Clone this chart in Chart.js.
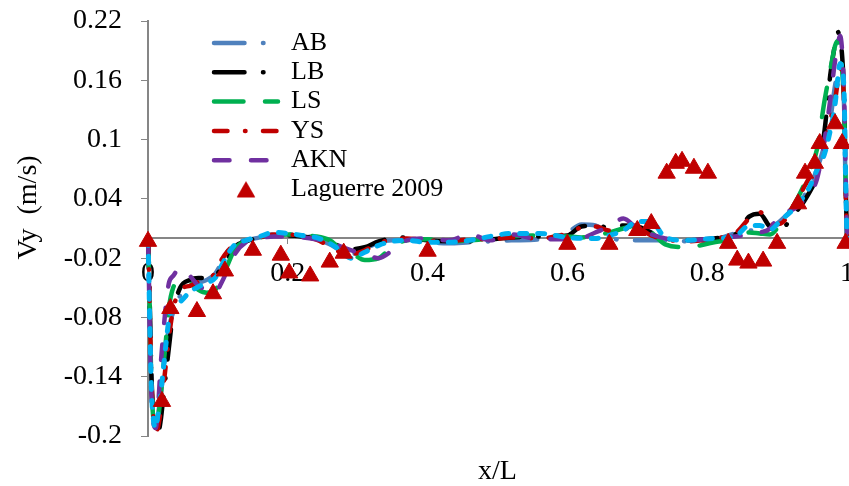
<!DOCTYPE html>
<html>
<head>
<meta charset="utf-8">
<script src="https://cdn.jsdelivr.net/npm/chart.js@4.4.1/dist/chart.umd.min.js"></script>
<style>html,body{margin:0;padding:0;background:#fff}canvas{display:block}</style>
</head>
<body>
<canvas id="c" width="849" height="486"></canvas>
<script>
// ---- data ----
const xGrid = [0, 0.001, 0.003, 0.005, 0.008, 0.011, 0.014, 0.018, 0.022, 0.026,
  0.03, 0.036, 0.046, 0.06, 0.072, 0.084, 0.096, 0.105, 0.115, 0.125,
  0.14, 0.16, 0.18, 0.2, 0.22, 0.24, 0.26, 0.275, 0.29, 0.31,
  0.33, 0.35, 0.37, 0.4, 0.43, 0.46, 0.49, 0.52, 0.56, 0.6,
  0.62, 0.64, 0.66, 0.68, 0.7, 0.72, 0.74, 0.77, 0.81, 0.84,
  0.86, 0.875, 0.89, 0.905, 0.925, 0.945, 0.957, 0.968, 0.976, 0.983,
  0.987, 0.99, 0.993, 0.996, 0.998, 1];

const abVy = [0, -0.025, -0.095, -0.15, -0.183, -0.19, -0.18, -0.16, -0.135, -0.11,
  -0.09, -0.075, -0.058, -0.05, -0.045, -0.042, -0.036, -0.025, -0.012, -0.005,
  -0.002, 0.001, 0.004, 0.004, 0.003, 0, -0.006, -0.012, -0.016, -0.011,
  -0.004, -0.002, -0.002, -0.004, -0.005, -0.004, -0.003, -0.002, -0.001, 0.006,
  0.014, 0.013, 0.002, -0.002, -0.002, -0.002, -0.002, -0.003, -0.001, 0.005,
  0.008, 0.007, 0.01, 0.018, 0.032, 0.05, 0.07, 0.095, 0.12, 0.155,
  0.17, 0.175, 0.165, 0.13, 0.05, 0];

const lbVy = [0, -0.02, -0.08, -0.14, -0.18, -0.195, -0.198, -0.185, -0.16, -0.135,
  -0.11, -0.075, -0.05, -0.042, -0.04, -0.04, -0.038, -0.03, -0.019, -0.008,
  -0.003, 0.001, 0.003, 0.003, 0.002, 0, -0.004, -0.008, -0.011, -0.009,
  -0.003, 0, 0.001, -0.002, -0.003, -0.003, -0.001, 0.001, 0.002, 0.003,
  0.012, 0.013, 0.011, 0.013, 0.012, 0.006, 0, -0.002, 0, 0.004,
  0.022, 0.025, 0.012, 0.01, 0.025, 0.045, 0.065, 0.11, 0.165, 0.197,
  0.209, 0.2, 0.185, 0.14, 0.06, 0];

const lsVy = [0, -0.02, -0.09, -0.15, -0.185, -0.193, -0.185, -0.16, -0.13, -0.1,
  -0.07, -0.05, -0.043, -0.045, -0.052, -0.055, -0.052, -0.042, -0.025, -0.01,
  -0.003, 0.001, 0.003, 0.004, 0.003, 0.002, -0.002, -0.01, -0.014, -0.022,
  -0.02, -0.008, -0.002, -0.001, -0.003, -0.002, 0, 0.002, 0.003, 0.002,
  0.001, 0.003, 0.006, 0.01, 0.013, 0.006, -0.006, -0.009, -0.004, 0,
  0.006, 0.005, 0.004, 0.015, 0.035, 0.065, 0.09, 0.14, 0.17, 0.195,
  0.2, 0.19, 0.17, 0.13, 0.06, 0];

const ysVy = [0, -0.02, -0.085, -0.145, -0.182, -0.195, -0.192, -0.175, -0.15, -0.125,
  -0.1, -0.072, -0.052, -0.048, -0.044, -0.042, -0.035, -0.022, -0.012, -0.005,
  -0.002, 0.001, 0.004, 0.004, 0.002, -0.001, -0.008, -0.014, -0.016, -0.012,
  -0.005, -0.001, 0, -0.002, -0.003, -0.001, -0.001, 0.001, 0, 0.005,
  0.011, 0.012, 0.008, 0.01, 0.01, 0.003, -0.001, -0.003, 0, 0.005,
  0.02, 0.027, 0.014, 0.015, 0.035, 0.06, 0.075, 0.1, 0.12, 0.14,
  0.16, 0.172, 0.168, 0.13, 0.05, 0];

const aknVy = [0, -0.03, -0.11, -0.16, -0.188, -0.192, -0.175, -0.13, -0.095, -0.065,
  -0.045, -0.038, -0.03, -0.038, -0.048, -0.052, -0.055, -0.045, -0.03, -0.015,
  -0.004, 0, 0.002, 0.002, 0.001, -0.001, -0.004, -0.008, -0.012, -0.016,
  -0.02, -0.012, -0.002, 0, -0.002, 0.004, -0.002, 0.004, -0.001, -0.001,
  0, 0.006, 0.012, 0.02, 0.01, 0.004, 0, -0.002, 0, 0.002,
  0.004, 0.006, 0.01, 0.025, 0.03, 0.045, 0.06, 0.1, 0.14, 0.18,
  0.196, 0.205, 0.19, 0.14, 0.07, 0];

const cyanVy = [0, -0.03, -0.1, -0.155, -0.185, -0.192, -0.18, -0.158, -0.132, -0.105,
  -0.082, -0.068, -0.064, -0.054, -0.049, -0.045, -0.04, -0.028, -0.015, -0.006,
  -0.002, 0.002, 0.006, 0.005, 0.003, 0.001, -0.005, -0.012, -0.02, -0.014,
  -0.007, -0.003, -0.002, -0.004, -0.004, -0.002, 0.002, 0.005, 0.005, 0.001,
  0, 0, 0.003, 0.008, 0.017, 0.017, 0.001, -0.002, 0, 0.002,
  0.013, 0.013, 0.009, 0.018, 0.031, 0.05, 0.069, 0.086, 0.109, 0.136,
  0.163, 0.177, 0.172, 0.143, 0.06, 0];

const lagX = [0, 0.02, 0.032, 0.07, 0.093, 0.11, 0.15, 0.19, 0.202, 0.232,
  0.26, 0.28, 0.4, 0.6, 0.66, 0.7, 0.72, 0.742, 0.755, 0.764,
  0.781, 0.801, 0.83, 0.843, 0.859, 0.88, 0.9, 0.93, 0.94, 0.954,
  0.961, 0.983, 0.993, 0.998];
const lagY = [-0.003, -0.165, -0.071, -0.074, -0.056, -0.033, -0.012, -0.017, -0.035, -0.038,
  -0.024, -0.015, -0.013, -0.006, -0.006, 0.008, 0.015, 0.066, 0.076, 0.078,
  0.071, 0.066, -0.005, -0.022, -0.025, -0.023, -0.005, 0.035, 0.066, 0.076,
  0.096, 0.116, 0.096, -0.005];

const xTicks = [0, 0.2, 0.4, 0.6, 0.8, 1];
const xTickLabels = ['0', '0.2', '0.4', '0.6', '0.8', '1'];
const yTicks = [-0.2, -0.14, -0.08, -0.02, 0.04, 0.1, 0.16, 0.22];
const yTickLabels = ['-0.2', '-0.14', '-0.08', '-0.02', '0.04', '0.1', '0.16', '0.22'];

// ---- chart ----
const FONT = 'Liberation Serif';
Chart.defaults.font.family = FONT;
Chart.defaults.color = '#000';

function lineDs(label, vals, color, dash, width, order) {
  return {
    type: 'line', label: label,
    data: xGrid.map((x, i) => ({x: x, y: vals[i]})),
    borderColor: color, backgroundColor: color,
    borderWidth: width, borderDash: dash,
    borderCapStyle: 'round', borderJoinStyle: 'round',
    pointRadius: 0, pointHoverRadius: 0,
    cubicInterpolationMode: 'monotone',
    fill: false, clip: false, order: order
  };
}

const datasets = [
  lineDs('AB', abVy, '#4F81BD', [30.5, 18.5, 0.5, 18.5], 4.5, 6),
  lineDs('LB', lbVy, '#000000', [30.5, 18.5, 0.5, 18.5], 4.5, 5),
  lineDs('LS', lsVy, '#00B050', [29.5, 21.5], 4.5, 4),
  lineDs('YS', ysVy, '#C00000', [13.5, 17.5, 0.5, 17.5], 4.5, 3),
  lineDs('AKN', aknVy, '#7030A0', [15.5, 21.5], 4.5, 2),
  lineDs('CFD', cyanVy, '#00B0F0', [7, 11], 5, 1),
  {
    type: 'scatter', label: 'Laguerre 2009',
    data: lagX.map((x, i) => ({x: x, y: lagY[i]})),
    pointStyle: 'triangle', pointRadius: 10, pointHoverRadius: 10,
    backgroundColor: '#C00000', borderColor: '#C00000', borderWidth: 1,
    showLine: false, clip: false, order: 0
  }
];

const legendOrder = [0, 1, 2, 3, 4, 6];

// legend symbol for the marker series, drawn with Chart.js' own point helper
let triSymbol = 'triangle';
if (Chart.helpers && Chart.helpers.drawPoint) {
  const cv = document.createElement('canvas');
  cv.width = 24; cv.height = 24;
  const cx = cv.getContext('2d');
  cx.fillStyle = '#C00000'; cx.strokeStyle = '#C00000'; cx.lineWidth = 1;
  Chart.helpers.drawPoint(cx, {pointStyle: 'triangle', radius: 10, borderWidth: 1, rotation: 0}, 12, 14.5);
  triSymbol = cv;
}

const legendPlace = {
  id: 'legendPlace',
  afterLayout(chart) {
    const l = chart.legend;
    if (!l) return;
    l.left = 210.7; l.top = 26.7;
    l.right = l.left + 300; l.bottom = l.top + 300;
  }
};

new Chart(document.getElementById('c'), {
  data: { datasets: datasets },
  options: {
    responsive: false,
    animation: false,
    events: [],
    layout: { autoPadding: false, padding: { left: 0, right: 2, top: 21, bottom: 0 } },
    scales: {
      x: {
        type: 'linear', position: { y: 0 }, min: 0, max: 1,
        afterBuildTicks: s => { s.ticks = xTicks.map(v => ({value: v})); },
        afterFit: s => { s.paddingLeft = 0; s.paddingRight = 0; s.paddingTop = 0; s.paddingBottom = 0; },
        ticks: { callback: (v, i) => xTickLabels[i], font: { family: FONT, size: 28 }, color: '#000', padding: 13, maxRotation: 0, autoSkip: false },
        grid: { drawOnChartArea: false, drawTicks: true, tickLength: 5, color: '#868686', lineWidth: 1 },
        border: { display: true, color: '#868686', width: 2 }
      },
      y: {
        type: 'linear', position: 'left', min: -0.2, max: 0.22,
        afterBuildTicks: s => { s.ticks = yTicks.map(v => ({value: v})); },
        afterFit: s => { s.width = 148; s.paddingTop = 0; s.paddingBottom = 0; s.paddingLeft = 0; s.paddingRight = 0; },
        ticks: { callback: (v, i) => yTickLabels[i], font: { family: FONT, size: 28 }, color: '#000', padding: 19, autoSkip: false },
        grid: { drawOnChartArea: false, drawTicks: true, tickLength: 7, color: '#868686', lineWidth: 1 },
        border: { display: true, color: '#868686', width: 2 },
        title: { display: true, text: '\u00A0\u00A0\u00A0\u00A0\u00A0\u00A0Vy  (m/s)', font: { family: FONT, size: 28 }, color: '#000', padding: { top: 12, bottom: 0 } }
      }
    },
    plugins: {
      tooltip: { enabled: false },
      title: { display: true, position: 'bottom', fullSize: false, text: 'x/L', color: '#000', font: { family: FONT, size: 28, weight: 'normal', lineHeight: 1 }, padding: { top: 22, bottom: 0 } },
      legend: {
        position: 'chartArea', align: 'start',
        labels: {
          usePointStyle: true, pointStyleWidth: 64, boxHeight: 14, padding: 3.3,
          font: { family: FONT, size: 26 }, color: '#000',
          generateLabels: (chart) => legendOrder.map(i => {
            const ds = chart.data.datasets[i];
            const pts = ds.type === 'scatter';
            return {
              text: ds.label, datasetIndex: i, hidden: false,
              fillStyle: ds.backgroundColor, strokeStyle: ds.borderColor,
              lineWidth: pts ? 1 : ds.borderWidth,
              lineDash: pts ? [] : ds.borderDash,
              lineCap: 'round', lineJoin: 'round',
              pointStyle: pts ? triSymbol : 'line',
              rotation: pts ? 0 : 180, fontColor: '#000'
            };
          })
        }
      }
    }
  },
  plugins: [legendPlace]
});
</script>
</body>
</html>
